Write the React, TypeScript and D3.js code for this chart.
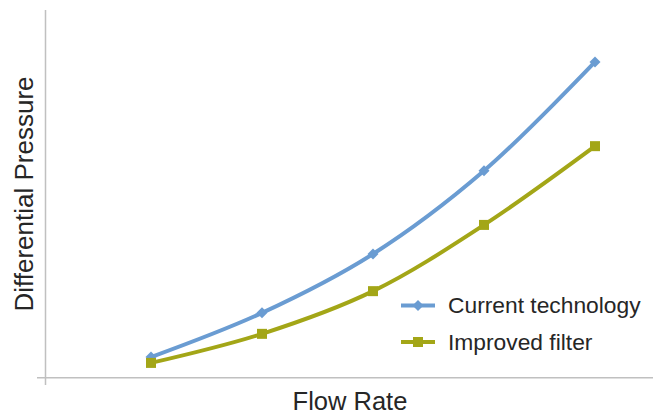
import React from "react";
import * as d3 from "d3";

const flowRates = [1, 2, 3, 4, 5];
const currentTech = [5.7, 17.7, 33.7, 56.3, 85.9];
const improvedFilter = [4.1, 12.0, 23.6, 41.6, 63.0];
const seriesNames = ["Current technology", "Improved filter"];
const xTitle = "Flow Rate";
const yTitle = "Differential Pressure";

const W = 653;
const H = 415;
const BLUE = "#6a9cd2";
const OLIVE = "#a3a617";
const AXIS = "#c0c0c0";
const FONT = "'Liberation Sans', Arial, sans-serif";

export default function App() {
  const x = d3.scaleLinear().domain([1, 5]).range([151, 595]);
  const y = d3.scaleLinear().domain([0, 100]).range([378, 10]);

  const line = d3
    .line<number>()
    .x((_, i) => x(flowRates[i]))
    .y((d) => y(d))
    .curve(d3.curveCatmullRom.alpha(0.5));

  const diamond = (cx: number, cy: number, r: number) =>
    `M${cx},${cy - r}L${cx + r},${cy}L${cx},${cy + r}L${cx - r},${cy}Z`;

  const legendX = 401;
  const legendY = [305.5, 342];

  return (
    <svg
      width={W}
      height={H}
      style={{ position: "absolute", left: 0, top: 0, background: "#fff" }}
    >
      {/* axes */}
      <line x1={45.5} x2={45.5} y1={10} y2={385} stroke={AXIS} strokeWidth={1.5} />
      <line x1={37} x2={W} y1={377.75} y2={377.75} stroke={AXIS} strokeWidth={1.5} />

      {/* current technology */}
      <path d={line(currentTech) || ""} fill="none" stroke={BLUE} strokeWidth={4} strokeLinejoin="round" />
      {currentTech.map((v, i) => (
        <path key={"c" + i} d={diamond(x(flowRates[i]), y(v), 5.5)} fill={BLUE} />
      ))}

      {/* improved filter */}
      <path d={line(improvedFilter) || ""} fill="none" stroke={OLIVE} strokeWidth={4} strokeLinejoin="round" />
      {improvedFilter.map((v, i) => (
        <rect
          key={"i" + i}
          x={x(flowRates[i]) - 5}
          y={y(v) - 5}
          width={10}
          height={10}
          fill={OLIVE}
        />
      ))}

      {/* legend */}
      <line x1={legendX} x2={legendX + 34} y1={legendY[0]} y2={legendY[0]} stroke={BLUE} strokeWidth={4} />
      <path d={diamond(legendX + 17, legendY[0], 5.5)} fill={BLUE} />
      <text x={448} y={legendY[0] + 7.5} fontFamily={FONT} fontSize={22.8} fill="#262626">
        {seriesNames[0]}
      </text>
      <line x1={legendX} x2={legendX + 34} y1={legendY[1]} y2={legendY[1]} stroke={OLIVE} strokeWidth={4} />
      <rect x={legendX + 12} y={legendY[1] - 5} width={10} height={10} fill={OLIVE} />
      <text x={448} y={legendY[1] + 7.5} fontFamily={FONT} fontSize={22.8} fill="#262626">
        {seriesNames[1]}
      </text>

      {/* axis titles */}
      <text
        x={350}
        y={410}
        textAnchor="middle"
        fontFamily={FONT}
        fontSize={25.5}
        fill="#262626"
      >
        {xTitle}
      </text>
      <text
        transform={`translate(33,194) rotate(-90)`}
        textAnchor="middle"
        fontFamily={FONT}
        fontSize={26}
        fill="#262626"
      >
        {yTitle}
      </text>
    </svg>
  );
}
